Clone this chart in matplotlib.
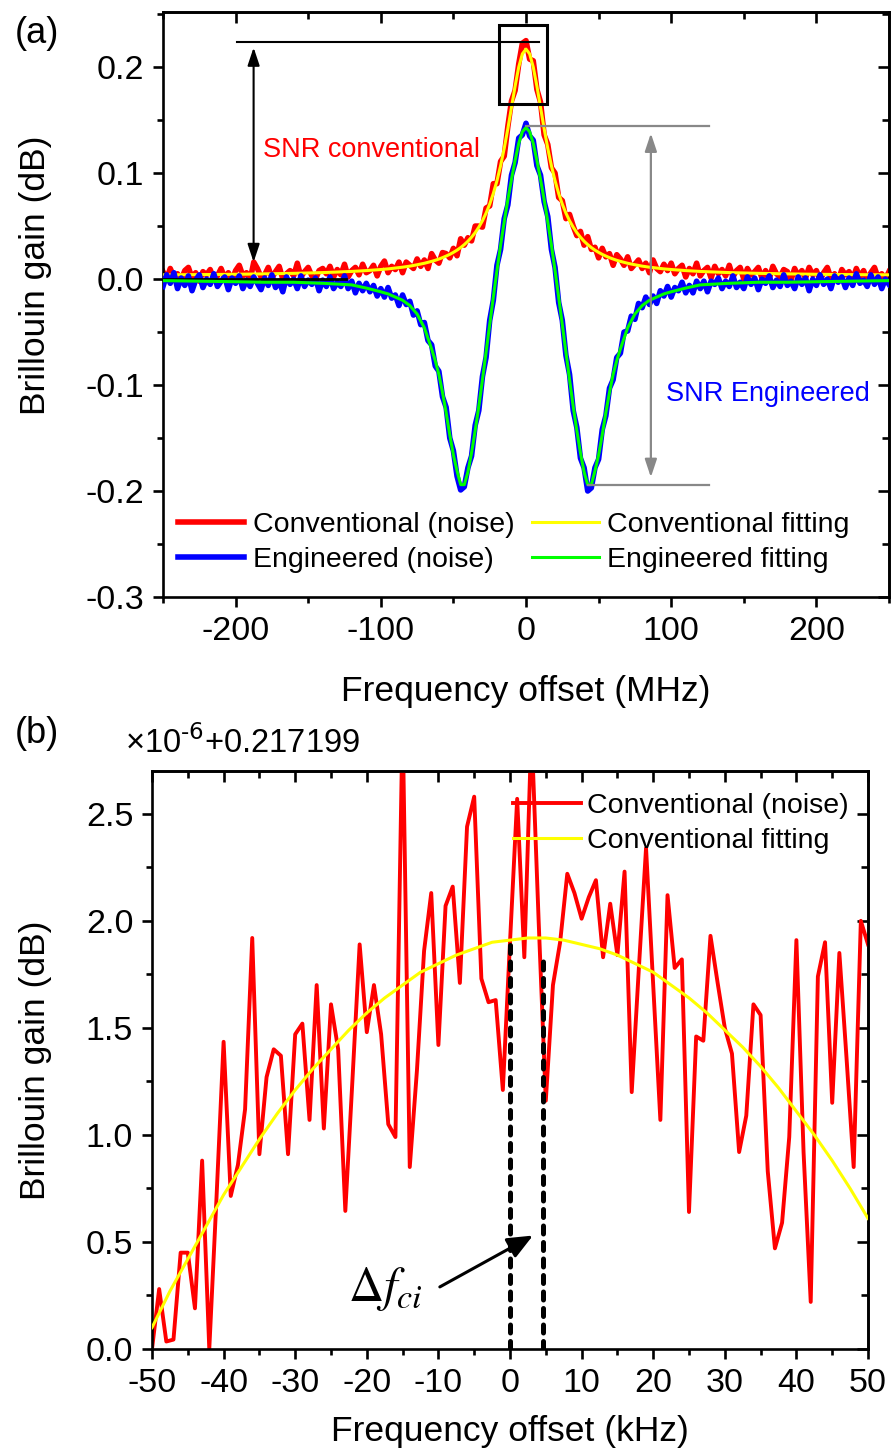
import matplotlib
matplotlib.use('Agg')
import matplotlib.pyplot as plt
import numpy as np
from matplotlib.patches import Rectangle
from matplotlib.ticker import MultipleLocator, NullFormatter, FormatStrFormatter

plt.rcParams['font.family'] = ['Liberation Sans', 'DejaVu Sans']
plt.rcParams['axes.unicode_minus'] = False
plt.rcParams['mathtext.default'] = 'regular'

# ---- panel (a): Brillouin gain spectra vs frequency offset (MHz) ----
noise_freq = np.arange(-250, 250.1, 2.5)

conv_noise = [
    .007, .000, .010, .002, .005, -.001, .008, .011, .001, .006,
    -.002, .007, .004, .009, .000, .003, .010, .001, .006, -.001,
    .008, .013, .003, .006, -.001, .016, .010, .002, .004, .011,
    .001, .007, .012, .000, .005, .008, .003, .015, .002, .007,
    .011, .003, .000, .008, .010, .005, .012, .002, .009, .004,
    .014, .002, .008, .011, .004, .014, .006, .008, .013, .003,
    .012, .017, .006, .012, .009, .016, .006, .016, .013, .010,
    .019, .012, .018, .010, .024, .018, .015, .025, .024, .020,
    .029, .022, .038, .032, .039, .036, .050, .050, .049, .067,
    .069, .090, .090, .111, .116, .144, .168, .178, .203, .2225,
    .225, .2075, .206, .179, .167, .136, .127, .105, .100, .077,
    .074, .057, .061, .050, .041, .045, .032, .040, .028, .030,
    .020, .029, .021, .024, .013, .023, .019, .013, .021, .010,
    .014, .018, .010, .015, .006, .018, .010, .007, .014, .008,
    .015, .005, .010, .013, .002, .010, .005, .015, .003, .008,
    .011, .001, .012, .005, .009, .003, .013, .002, .008, .011,
    .000, .010, .004, .007, .011, .001, .008, .000, .012, .005,
    .002, .009, .007, -.001, .010, .003, .008, .001, .011, .004,
    .008, -.001, .006, .011, .001, .005, -.002, .009, .004, .007,
    .000, .010, .002, .008, -.001, .006, .011, .001, .005, .000,
    .007]

eng_noise = [
    -.007, .004, -.004, .006, -.009, .001, -.006, .003, -.011, -.001,
    .004, -.008, .000, -.005, .005, -.007, -.002, .002, -.010, .001,
    -.004, .003, -.009, -.001, -.007, .002, -.004, -.010, .001, -.006,
    .004, -.008, -.002, -.012, .002, -.005, .000, -.009, .003, -.007,
    -.001, -.005, .001, -.011, -.001, -.007, .002, -.009, -.003, -.007,
    .003, -.009, -.002, -.013, -.004, -.011, -.004, -.012, -.006, -.016,
    -.009, -.017, -.008, -.018, -.015, -.025, -.015, -.024, -.021, -.034,
    -.030, -.043, -.041, -.058, -.062, -.082, -.087, -.111, -.121, -.150,
    -.162, -.186, -.199, -.196, -.178, -.167, -.138, -.124, -.092, -.074,
    -.039, -.020, .013, .028, .057, .070, .098, .110, .133, .136,
    .147, .135, .131, .107, .098, .073, .059, .028, .011, -.022,
    -.039, -.072, -.090, -.124, -.140, -.169, -.178, -.200, -.197, -.178,
    -.170, -.142, -.129, -.103, -.095, -.074, -.070, -.050, -.049, -.035,
    -.038, -.023, -.027, -.017, -.024, -.016, -.023, -.011, -.016, -.007,
    -.017, -.008, -.011, -.003, -.013, -.006, -.013, -.002, -.009, -.002,
    -.012, -.002, -.005, .001, -.009, -.002, -.007, .003, -.008, -.003,
    -.009, .002, -.005, .001, -.010, .000, -.004, .003, -.008, -.001,
    -.007, .004, -.006, -.002, -.009, .002, -.005, .001, -.011, .000,
    -.006, .004, -.005, .000, -.009, .003, -.003, .002, -.008, .001,
    -.006, .005, -.004, -.001, -.007, .004, -.005, .002, -.009, .000,
    -.005]

# fitted curves, read at the positive offsets (both curves are symmetric)
fit_half_freq = [0, 2.5, 5, 7.5, 10, 12.5, 15, 17.5, 20, 22.5, 25, 27.5, 30,
                 32.5, 35, 37.5, 40, 42.5, 45, 47.5, 50, 52.5, 55, 57.5, 60,
                 62.5, 65, 70, 75, 80, 85, 90, 95, 100, 110, 120, 140, 160,
                 180, 200, 225, 250]
conv_fit_half = [.2170, .2125, .2000, .1821, .1620, .1419, .1233, .1069, .0928,
                 .0808, .0707, .0622, .0550, .0490, .0438, .0395, .0357, .0325,
                 .0297, .0273, .0252, .0233, .0217, .0202, .0189, .0177, .0167,
                 .0149, .0135, .0122, .0112, .0104, .0096, .0090, .0080, .0072,
                 .0061, .0054, .0049, .0045, .0042, .0040]
eng_fit_half = [.143, .139, .128, .112, .094, .075, .054, .032, .008, -.017,
                -.043, -.069, -.095, -.120, -.143, -.164, -.182, -.194, -.194,
                -.181, -.166, -.147, -.126, -.107, -.090, -.077, -.066, -.046,
                -.033, -.025, -.020, -.017, -.014, -.012, -.0085, -.0055,
                -.004, -.003, -.003, -.0025, -.002, -.0015]

fit_freq = [-f for f in fit_half_freq[::-1]] + fit_half_freq[1:]
conv_fit = conv_fit_half[::-1] + conv_fit_half[1:]
eng_fit = eng_fit_half[::-1] + eng_fit_half[1:]

# ---- panel (b): zoom on the conventional peak (kHz), units 1e-6 + 0.217199 dB ----
zoom_freq = np.arange(-50, 51)
zoom_noise = [
    0.00, 0.28, 0.035, 0.044, 0.45, 0.45, 0.19, 0.88, 0.00, 0.70,
    1.435, 0.715, 0.86, 1.12, 1.92, 0.91, 1.27, 1.40, 1.37, 0.91,
    1.47, 1.52, 1.07, 1.70, 1.03, 1.61, 1.40, 0.645, 1.26, 1.89,
    1.48, 1.70, 1.47, 1.05, 0.99, 2.95, 0.85, 1.30, 1.86, 2.13,
    1.42, 2.07, 2.16, 1.71, 2.44, 2.58, 1.73, 1.62, 1.63, 1.21,
    1.90, 2.57, 1.83, 2.90, 2.00, 1.16, 1.70, 1.90, 2.22, 2.13,
    2.01, 2.11, 2.19, 1.83, 2.08, 1.84, 2.23, 1.20, 1.78, 2.34,
    1.70, 1.07, 2.12, 1.78, 1.82, 0.64, 1.46, 1.44, 1.93, 1.71,
    1.50, 1.38, 0.92, 1.09, 1.61, 1.56, 0.83, 0.47, 0.59, 0.99,
    1.91, 0.92, 0.22, 1.74, 1.90, 1.15, 1.85, 1.36, 0.85, 2.00,
    1.89]
zoom_fit_freq = np.arange(-50, 50.1, 2.5)
zoom_fit = [0.10, 0.27, 0.42, 0.57, 0.72, 0.85, 0.98, 1.10, 1.21, 1.31, 1.40,
            1.49, 1.57, 1.64, 1.70, 1.76, 1.80, 1.84, 1.87, 1.90, 1.91, 1.92,
            1.92, 1.91, 1.89, 1.87, 1.84, 1.80, 1.76, 1.70, 1.64, 1.57, 1.49,
            1.41, 1.32, 1.22, 1.11, 1.00, 0.88, 0.75, 0.61]
ci_lines = [0.0, 4.6]
ci_tops = [1.90, 1.85]

RED = '#ff0000'
BLUE = '#0000ff'
YELLOW = '#ffff00'
GREEN = '#00ff00'
GREY = '#888888'


def style_axes(ax, xmaj, xmin, ymaj, ymin):
    for s in ax.spines.values():
        s.set_linewidth(1.9)
    ax.xaxis.set_major_locator(MultipleLocator(xmaj))
    ax.xaxis.set_minor_locator(MultipleLocator(xmin))
    ax.yaxis.set_major_locator(MultipleLocator(ymaj))
    ax.yaxis.set_minor_locator(MultipleLocator(ymin))
    ax.tick_params(which='both', direction='out', width=1.9, labelsize=24.5,
                   pad=6)
    ax.tick_params(which='major', length=7.5)
    ax.tick_params(which='minor', length=4.5)
    top = ax.secondary_xaxis('top')
    top.xaxis.set_major_locator(MultipleLocator(xmaj))
    top.xaxis.set_minor_locator(MultipleLocator(xmin))
    top.xaxis.set_major_formatter(NullFormatter())
    top.tick_params(which='both', direction='in', width=1.9)
    top.tick_params(which='major', length=8)
    top.tick_params(which='minor', length=5)
    top.spines['top'].set_linewidth(1.9)
    right = ax.secondary_yaxis('right')
    right.yaxis.set_major_locator(MultipleLocator(ymaj))
    right.yaxis.set_minor_locator(MultipleLocator(ymin))
    right.yaxis.set_major_formatter(NullFormatter())
    right.tick_params(which='both', direction='in', width=1.9)
    right.tick_params(which='major', length=8)
    right.tick_params(which='minor', length=5)
    right.spines['right'].set_linewidth(1.9)


fig = plt.figure(figsize=(8.93, 14.5), dpi=100)

# ---------------- (a) ----------------
ax1 = fig.add_axes([163 / 893, 1 - 597 / 1450, 726 / 893, 585 / 1450])
l_cn, = ax1.plot(noise_freq, conv_noise, color=RED, lw=4.0, zorder=2,
                 label='Conventional (noise)')
l_cf, = ax1.plot(fit_freq, conv_fit, color=YELLOW, lw=2.2, zorder=3,
                 label='Conventional fitting')
l_en, = ax1.plot(noise_freq, eng_noise, color=BLUE, lw=4.0, zorder=4,
                 label='Engineered (noise)')
l_ef, = ax1.plot(fit_freq, eng_fit, color=GREEN, lw=2.2, zorder=6,
                 label='Engineered fitting')
ax1.plot([-250, -124], [0, 0], color='black', lw=2.0, zorder=5)

ax1.set_xlim(-250, 250)
ax1.set_ylim(-0.3, 0.252)
style_axes(ax1, 100, 50, 0.1, 0.05)
ax1.yaxis.set_major_formatter(FormatStrFormatter('%.1f'))
ax1.set_xlabel('Frequency offset (MHz)', fontsize=25.5)
ax1.set_ylabel('Brillouin gain (dB)', fontsize=25.5)
ax1.xaxis.set_label_coords(0.5, -0.133)
ax1.yaxis.set_label_coords(-0.153, 0.55)

# SNR annotations
ax1.plot([-199, 9], [0.2237, 0.2237], color='black', lw=1.5, zorder=7)
ax1.annotate('', xy=(-187.6, 0.2185), xytext=(-187.6, 0.016),
             arrowprops=dict(arrowstyle='<|-|>,head_length=0.6,head_width=0.2',
                             color='black', lw=1.5, mutation_scale=18,
                             shrinkA=0, shrinkB=0), zorder=7)
ax1.add_patch(Rectangle((-18.6, 0.165), 33.0, 0.0747, fill=False,
                        edgecolor='black', lw=2.2, zorder=8))
ax1.text(-181.4, 0.1215, 'SNR conventional', color=RED, fontsize=19.5,
         ha='left', va='center')

ax1.plot([0, 126], [0.1442, 0.1442], color=GREY, lw=1.6, zorder=7)
ax1.plot([43, 126], [-0.194, -0.194], color=GREY, lw=1.6, zorder=7)
ax1.annotate('', xy=(86, 0.1375), xytext=(86, -0.187),
             arrowprops=dict(arrowstyle='<|-|>,head_length=0.6,head_width=0.2',
                             color=GREY, lw=1.6, mutation_scale=18,
                             shrinkA=0, shrinkB=0), zorder=7)
ax1.text(96.2, -0.1088, 'SNR Engineered', color=BLUE, fontsize=19.5,
         ha='left', va='center')

ax1.legend([l_cn, l_en, l_cf, l_ef],
           ['Conventional (noise)', 'Engineered (noise)',
            'Conventional fitting', 'Engineered fitting'],
           ncol=2, loc='upper left', bbox_to_anchor=(0.020, 0.145),
           frameon=False, fontsize=20.5, handlelength=2.35,
           handletextpad=0.3, columnspacing=0.6, labelspacing=0.3,
           borderpad=0, borderaxespad=0)

# ---------------- (b) ----------------
ax2 = fig.add_axes([152 / 893, 1 - 1349 / 1450, 716 / 893, 578 / 1450])
l_zn, = ax2.plot(zoom_freq, zoom_noise, color=RED, lw=2.8, zorder=2)
l_zf, = ax2.plot(zoom_fit_freq, zoom_fit, color=YELLOW, lw=2.2, zorder=3)
for xc, top in zip(ci_lines, ci_tops):
    ax2.plot([xc, xc], [0, top], color='black', lw=3.6,
             dashes=(1.6, 1.7), dash_capstyle='round', zorder=4)
ax2.annotate('', xy=(3.2, 0.53), xytext=(-9.8, 0.29),
             arrowprops=dict(arrowstyle='-|>,head_length=0.7,head_width=0.3',
                             color='black', lw=2.2, mutation_scale=22,
                             shrinkA=0, shrinkB=0), zorder=5)
ax2.text(-22.6, 0.225, r'$\mathrm{\Delta}\mathit{f}_{\mathit{ci}}$',
         fontsize=35, ha='left', va='baseline', math_fontfamily='stix')

ax2.set_xlim(-50, 50)
ax2.set_ylim(0, 2.7)
style_axes(ax2, 10, 5, 0.5, 0.25)
ax2.yaxis.set_major_formatter(FormatStrFormatter('%.1f'))
ax2.set_xlabel('Frequency offset (kHz)', fontsize=25.5)
ax2.set_ylabel('Brillouin gain (dB)', fontsize=25.5)
ax2.xaxis.set_label_coords(0.5, -0.114)
ax2.yaxis.set_label_coords(-0.140, 0.5)

ax2.legend([l_zn, l_zf], ['Conventional (noise)', 'Conventional fitting'],
           loc='upper left', bbox_to_anchor=(0.504, 0.962), frameon=False,
           fontsize=20.5, handlelength=2.4, handletextpad=0.2,
           labelspacing=0.3, borderpad=0, borderaxespad=0)

fig.text(125 / 893, 1 - 753 / 1450, r'×10$^{\text{-6}}$+0.217199',
         fontsize=23.5, ha='left', va='baseline')
fig.text(15 / 893, 1 - 16 / 1450, '(a)', fontsize=26, ha='left', va='top')
fig.text(15 / 893, 1 - 716 / 1450, '(b)', fontsize=26, ha='left', va='top')

fig.savefig('out.png', dpi=100)
